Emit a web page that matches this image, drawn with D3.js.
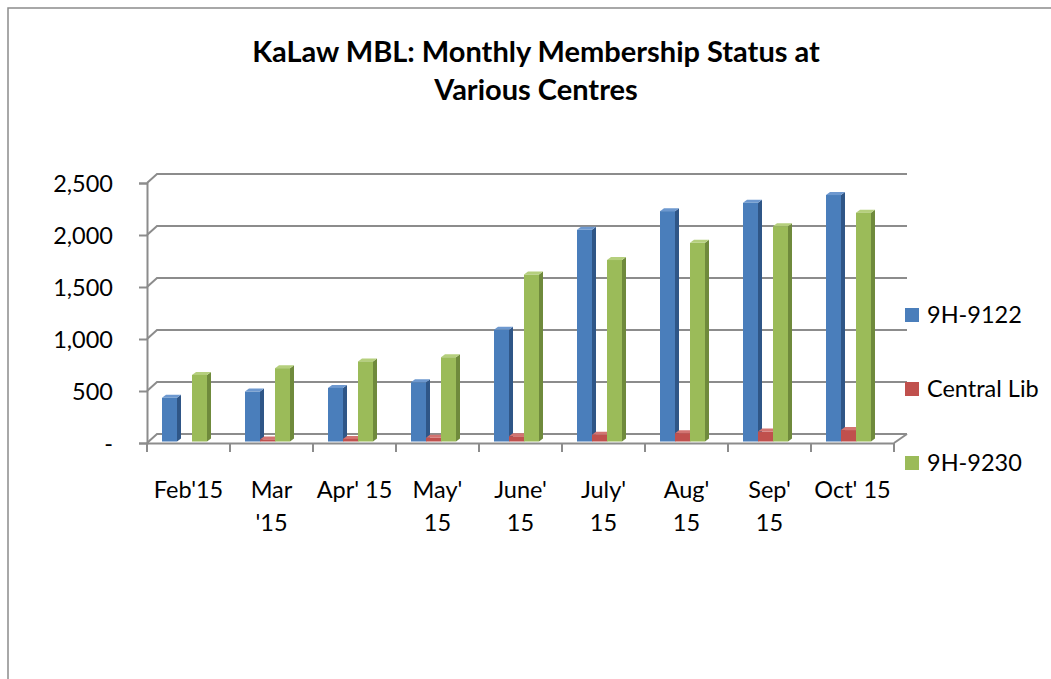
<!DOCTYPE html>
<html>
<head>
<meta charset="utf-8">
<script src="https://cdn.jsdelivr.net/npm/d3@7"></script>
<style>
  body { margin: 0; background: #fff; }
  text { font-family: Lato, "Open Sans", sans-serif; fill: #000; }
</style>
</head>
<body>
<div id="chart"></div>
<script>
// chart data
var months = ["Feb'15", "Mar '15", "Apr' 15", "May' 15", "June' 15", "July' 15", "Aug' 15", "Sep' 15", "Oct' 15"];
var monthLines = [["Feb'15"], ["Mar", "'15"], ["Apr' 15"], ["May'", "15"], ["June'", "15"], ["July'", "15"], ["Aug'", "15"], ["Sep'", "15"], ["Oct' 15"]];
var seriesNames = ["9H-9122", "Central Lib", "9H-9230"];
var s9122 = [420, 480, 515, 570, 1075, 2035, 2215, 2295, 2370];
var centralLib = [0, 20, 25, 35, 50, 65, 80, 95, 110];
var s9230 = [640, 705, 770, 810, 1605, 1745, 1910, 2070, 2200];
var yTicks = [0, 500, 1000, 1500, 2000, 2500];

var colors = {
  "9H-9122":     {front: "#4a7ebb", side: "#2f5687", top: "#6d98cf"},
  "Central Lib": {front: "#c0504d", side: "#8e3532", top: "#d37471"},
  "9H-9230":     {front: "#9bbb59", side: "#6f8a3c", top: "#b5cf7d"}
};

var W = 1051, H = 679;
var svg = d3.select("#chart").append("svg")
    .attr("width", W)
    .attr("height", H);

// outer frame
svg.append("rect")
    .attr("x", 8).attr("y", 8)
    .attr("width", W + 10).attr("height", H + 10)
    .attr("fill", "none")
    .attr("stroke", "#8c8c8c")
    .attr("stroke-width", 1.5);

// title
svg.append("text")
    .attr("x", 536).attr("y", 62)
    .attr("text-anchor", "middle")
    .style("font-weight", "bold")
    .style("font-size", "29px")
    .selectAll("tspan")
    .data(["KaLaw MBL: Monthly Membership Status at", "Various Centres"])
  .enter().append("tspan")
    .attr("x", 536)
    .attr("dy", function(d, i) { return i ? 38 : 0; })
    .text(function(d) { return d; });

// scales
var left = 147, right = 894;
var depthX = 10, depthY = 9;
var x = d3.scaleBand().domain(months).range([left, right]);
var xSub = d3.scaleBand().domain(seriesNames).range([15, 60]);
var y = d3.scaleLinear().domain([0, 2500]).range([443, 183]);
var yBar = d3.scaleLinear().domain([0, 2500]).range([441.5, 181.5]);

var grid = "#8c8c8c";
var fs = "23.5px";

// back wall gridlines with the slanted link to the front axis
svg.append("g").selectAll("path")
    .data(yTicks)
  .enter().append("path")
    .attr("fill", "none")
    .attr("stroke", grid)
    .attr("stroke-width", 2)
    .attr("d", function(d) {
      var yy = y(d);
      return "M" + left + "," + yy + "L" + (left + depthX) + "," + (yy - depthY) +
             "L" + (right + depthX + 3) + "," + (yy - depthY);
    });

// floor right edge
svg.append("path")
    .attr("fill", "none")
    .attr("stroke", grid)
    .attr("stroke-width", 2)
    .attr("d", "M" + (right + depthX + 3) + "," + (y(0) - depthY) + "L" + right + "," + y(0));

// y axis (front)
var yAxis = d3.axisLeft(y)
    .tickValues(yTicks)
    .tickSize(8)
    .tickPadding(26)
    .tickFormat(function(d) { return d === 0 ? "-" : d3.format(",")(d); });

var gy = svg.append("g")
    .attr("transform", "translate(" + left + ",0)")
    .call(yAxis);
gy.select(".domain").attr("stroke", grid).attr("stroke-width", 2);
gy.selectAll(".tick line").attr("stroke", grid).attr("stroke-width", 2);
gy.selectAll(".tick text")
    .style("font-size", fs)
    .attr("dy", "0.36em");

// x axis (front floor edge)
var xAxis = d3.axisBottom(x).tickSize(0).tickFormat("");
var gx = svg.append("g")
    .attr("transform", "translate(0," + y(0) + ")")
    .call(xAxis);
gx.select(".domain").attr("stroke", grid).attr("stroke-width", 2);

// category separators
svg.append("g").selectAll("line")
    .data(months.concat(["end"]))
  .enter().append("line")
    .attr("x1", function(d, i) { return left + i * x.bandwidth(); })
    .attr("x2", function(d, i) { return left + i * x.bandwidth(); })
    .attr("y1", y(0))
    .attr("y2", y(0) + 9)
    .attr("stroke", grid)
    .attr("stroke-width", 2);

// category labels
svg.append("g").selectAll("text")
    .data(months)
  .enter().append("text")
    .attr("text-anchor", "middle")
    .style("font-size", fs)
    .attr("y", 498)
    .each(function(d, i) {
      var cx = x(d) + x.bandwidth() / 2;
      d3.select(this).selectAll("tspan")
          .data(monthLines[i])
        .enter().append("tspan")
          .attr("x", cx)
          .attr("dy", function(t, j) { return j ? 33 : 0; })
          .text(function(t) { return t; });
    });

// bars
var bars = [];
seriesNames.forEach(function(s, si) {
  var vals = [s9122, centralLib, s9230][si];
  months.forEach(function(m, mi) {
    bars.push({series: s, month: m, value: vals[mi]});
  });
});
bars = bars.filter(function(d) { return d.value > 0; });

var bw = xSub.bandwidth(), dx = 4, dy = 3;
var gb = svg.append("g");
var barG = gb.selectAll("g")
    .data(bars)
  .enter().append("g");

barG.append("path")  // side
    .attr("fill", function(d) { return colors[d.series].side; })
    .attr("d", function(d) {
      var x1 = x(d.month) + xSub(d.series) + bw, y0 = yBar(0), y1 = yBar(d.value);
      return "M" + x1 + "," + y0 + "L" + (x1 + dx) + "," + (y0 - dy) +
             "L" + (x1 + dx) + "," + (y1 - dy) + "L" + x1 + "," + y1 + "Z";
    });
barG.append("path")  // top
    .attr("fill", function(d) { return colors[d.series].top; })
    .attr("d", function(d) {
      var x0 = x(d.month) + xSub(d.series), y1 = yBar(d.value);
      return "M" + x0 + "," + y1 + "L" + (x0 + dx) + "," + (y1 - dy) +
             "L" + (x0 + bw + dx) + "," + (y1 - dy) + "L" + (x0 + bw) + "," + y1 + "Z";
    });
barG.append("rect")  // front
    .attr("x", function(d) { return x(d.month) + xSub(d.series); })
    .attr("y", function(d) { return yBar(d.value); })
    .attr("width", bw)
    .attr("height", function(d) { return yBar(0) - yBar(d.value); })
    .attr("fill", function(d) { return colors[d.series].front; });

// legend
var legend = svg.append("g").selectAll("g")
    .data(seriesNames)
  .enter().append("g")
    .attr("transform", function(d, i) { return "translate(905," + (308 + i * 74) + ")"; });
legend.append("rect")
    .attr("width", 14).attr("height", 14)
    .attr("fill", function(d) { return colors[d].front; });
legend.append("text")
    .attr("x", 22).attr("y", 15)
    .style("font-size", fs)
    .text(function(d) { return d; });
</script>
</body>
</html>
